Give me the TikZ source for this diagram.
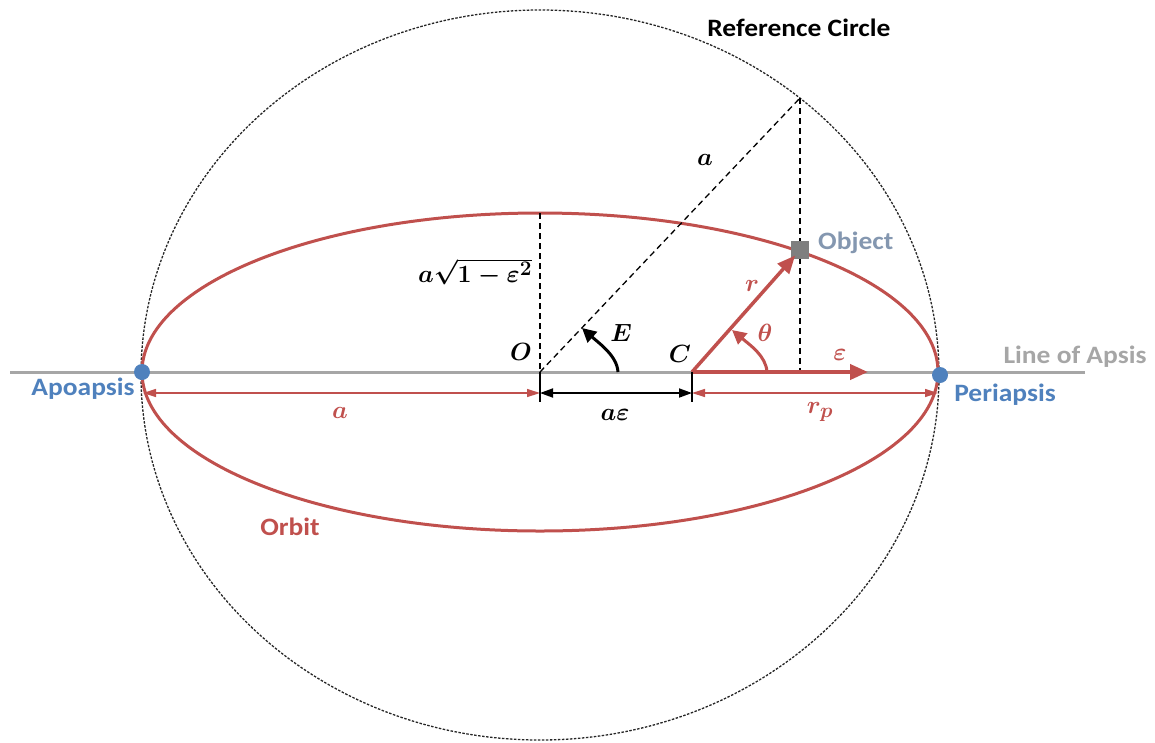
\documentclass[tikz,border=0pt]{standalone}
\usepackage[no-math]{fontspec}
\setmainfont{Carlito}[FakeStretch=1.1]
\usetikzlibrary{arrows.meta}
\definecolor{ored}{HTML}{C0504D}
\definecolor{oblue}{HTML}{4F81BD}
\definecolor{lgray}{HTML}{A6A6A6}
\definecolor{sqgray}{HTML}{7F7F7F}
\definecolor{objtxt}{HTML}{8497B0}
\newcommand\labfont{\fontsize{25}{29}\selectfont\bfseries}
\newcommand\mlabfont{\fontsize{29}{33}\selectfont\boldmath}
\begin{document}
\begin{tikzpicture}[x=1pt,y=-1pt,
  lab/.style={font=\labfont,inner sep=0pt},
  mlab/.style={font=\mlabfont,inner sep=0pt},
  refcirc/.style={draw=black!85,line width=1.3pt,dash pattern=on 2.5pt off 1.5pt},
  guide/.style={draw=black,line width=1.3pt,dash pattern=on 6pt off 4pt},
  orbit/.style={draw=ored,line width=3pt},
  apsis/.style={draw=lgray,line width=3pt},
  dimred/.style={draw=ored,line width=1.3pt,{Triangle[length=13pt,width=8pt]}-{Triangle[length=13pt,width=8pt]}},
  dimblk/.style={draw=black,line width=1.8pt,{Triangle[length=13pt,width=9pt]}-{Triangle[length=13pt,width=9pt]}},
  vecred/.style={draw=ored,line width=4pt,-{Triangle[length=18pt,width=15pt]}},
  anglearrow/.style={line width=3pt,-{Triangle[length=14pt,width=14pt]}},
  dot/.style={circle,fill=oblue,minimum size=16pt,inner sep=0pt},
  obj/.style={rectangle,fill=sqgray,minimum size=18pt,inner sep=0pt},
  tickline/.style={draw=black,line width=1.6pt}]
\useasboundingbox (0,0) rectangle (1155,742);
% key points
\coordinate (cc) at (540,375);
\coordinate (O) at (540,372);
\coordinate (C) at (692,372);
\coordinate (LA) at (10,372);
\coordinate (LB) at (1085,372);
\coordinate (P) at (800,98);
\coordinate (F) at (800,372);
\coordinate (T) at (540,213);
\coordinate (Ee) at (868,372);
\coordinate (E0) at (618,372);
\coordinate (E1) at (582,328);
\coordinate (Th0) at (767,372);
\coordinate (Th1) at (732,330);
\coordinate (dA) at (143,393);
\coordinate (dO) at (540,393);
\coordinate (dC) at (692,393);
\coordinate (dP) at (938,393);
\coordinate (tO) at (540,402);
\coordinate (tC) at (692,402);
% reference circle, apsis line, orbit
\draw[refcirc] (cc) ellipse [x radius=399, y radius=365];
\draw[apsis] (LA) -- (LB);
\draw[orbit] (O) ellipse [x radius=398, y radius=159];
% guides
\draw[guide] (T) -- (O);
\draw[guide] (O) -- (P);
\draw[guide] (P) -- (F);
% vectors
\draw[vecred] (C) -- (Ee);
\node[obj] (obj) at (800,250) {};
\draw[vecred,line width=3.5pt,shorten >=-5pt] (C) -- (obj);
% apsides
\node[dot] (apo) at (142,372) {};
\node[dot] (peri) at (940,375) {};
% dimensions
\draw[dimred] (dA) -- (dO);
\draw[dimblk] (dO) -- (dC);
\draw[dimred] (dC) -- (dP);
\draw[tickline] (O) -- (tO);
\draw[tickline] (C) -- (tC);
% angles
\draw[anglearrow,black] (E0) .. controls (617,356) and (600,344) .. (E1);
\draw[anglearrow,ored] (Th0) .. controls (766,356) and (750,345) .. (Th1);
% text labels
\node[lab] (reftxt) at (799,28) {Reference Circle};
\node[lab,text=oblue] (apotxt) at (83,389) {Apoapsis};
\node[lab,text=oblue] (peritxt) at (1005,395) {Periapsis};
\node[lab,text=lgray] (lintxt) at (1075,357) {Line of Apsis};
\node[lab,text=objtxt,anchor=west] (objtxt) at (818,243) {Object};
\node[lab,text=ored] (orbtxt) at (290,527) {Orbit};
% math labels
\node[mlab] (la) at (705,160) {$a$};
\node[mlab] (lb) at (475,272) {$a\sqrt{1-\varepsilon^2}$};
\node[mlab] (lO) at (521,352) {$O$};
\node[mlab] (lE) at (621,333) {$E$};
\node[mlab] (lC) at (680,354) {$C$};
\node[mlab,text=ored] (lr) at (752,286) {$r$};
\node[mlab,text=ored] (lth) at (765,333) {$\theta$};
\node[mlab,text=ored] (leps) at (840,355) {$\varepsilon$};
\node[mlab,text=ored] (lrp) at (820,412) {$r_p$};
\node[mlab,text=ored] (la2) at (340,413) {$a$};
\node[mlab] (lae) at (615,415) {$a\varepsilon$};
\end{tikzpicture}
\end{document}
